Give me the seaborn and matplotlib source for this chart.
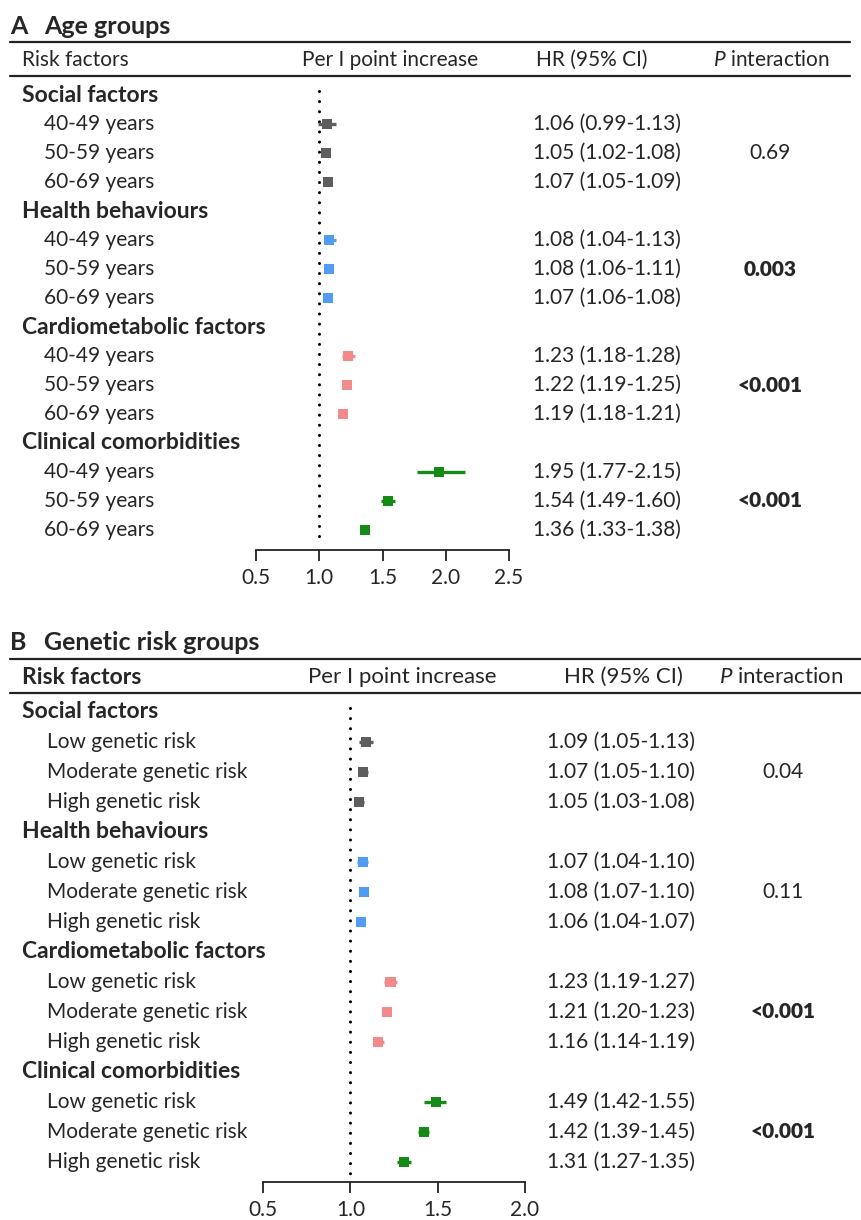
import pandas as pd
import matplotlib.pyplot as plt
import matplotlib.transforms as mtransforms
import seaborn as sns

sns.set_style('white')
plt.rcParams['font.family'] = ['Lato', 'DejaVu Sans']
plt.rcParams['mathtext.fontset'] = 'custom'
plt.rcParams['mathtext.rm'] = 'Lato'
plt.rcParams['mathtext.it'] = 'Lato:italic'

groups = ['Social factors', 'Health behaviours', 'Cardiometabolic factors', 'Clinical comorbidities']
colors = ['#5e5e5e', '#4f9cf2', '#f28a8c', '#168a16']

age_labels = ['40-49 years', '50-59 years', '60-69 years']
age_hr = [1.06, 1.05, 1.07, 1.08, 1.08, 1.07, 1.23, 1.22, 1.19, 1.95, 1.54, 1.36]
age_lo = [0.99, 1.02, 1.05, 1.04, 1.06, 1.06, 1.18, 1.19, 1.18, 1.77, 1.49, 1.33]
age_hi = [1.13, 1.08, 1.09, 1.13, 1.11, 1.08, 1.28, 1.25, 1.21, 2.15, 1.60, 1.38]
age_p = ['0.69', '0.003', '<0.001', '<0.001']
age_p_bold = [False, True, True, True]

gen_labels = ['Low genetic risk', 'Moderate genetic risk', 'High genetic risk']
gen_hr = [1.09, 1.07, 1.05, 1.07, 1.08, 1.06, 1.23, 1.21, 1.16, 1.49, 1.42, 1.31]
gen_lo = [1.05, 1.05, 1.03, 1.04, 1.07, 1.04, 1.19, 1.20, 1.14, 1.42, 1.39, 1.27]
gen_hi = [1.13, 1.10, 1.08, 1.10, 1.10, 1.07, 1.27, 1.23, 1.19, 1.55, 1.45, 1.35]
gen_p = ['0.04', '0.11', '<0.001', '<0.001']
gen_p_bold = [False, False, True, True]

W, H = 861, 1220
FS = 15      # regular text
FSB = 16.5   # bold group headings
FST = 18     # panel titles
fig = plt.figure(figsize=(W / 100, H / 100), dpi=100)


def fx(x):
    return x / W


def fy(y):
    return 1 - y / H


def build(labels, hr, lo, hi):
    rows = []
    k = 0
    for g in groups:
        rows.append({'group': g, 'label': g, 'head': True})
        for lab in labels:
            rows.append({'group': g, 'label': lab, 'head': False,
                         'hr': hr[k], 'lo': lo[k], 'hi': hi[k]})
            k += 1
    df = pd.DataFrame(rows)
    df['row'] = range(len(df))
    return df


def panel(df, letter, title, top, ax_left, ax_right, ax_bottom, xmax, ticks,
          line_right, cols, p_vals, p_bold, head_bold, head_fs, label_x, sub_x, hr_x, p_x, step):
    # title and header rules
    fig.text(fx(10), fy(top), letter, fontsize=FST, fontweight='bold', va='center')
    fig.text(fx(44), fy(top), title, fontsize=FST, fontweight='bold', va='center')
    fig.add_artist(plt.Line2D([fx(10), fx(line_right)], [fy(top + 16)] * 2, color='#222', lw=1.6))
    fig.add_artist(plt.Line2D([fx(10), fx(line_right)], [fy(top + 50)] * 2, color='#222', lw=1.6))
    hy = fy(top + 34)
    if head_bold:
        fig.text(fx(label_x), hy, 'Risk factors', fontsize=FSB, va='center', fontweight='bold')
    else:
        fig.text(fx(label_x), hy, 'Risk factors', fontsize=head_fs, va='center')
    fig.text(fx(cols[0]), hy, 'Per I point increase', fontsize=head_fs, va='center', ha='center')
    fig.text(fx(cols[1]), hy, 'HR (95% CI)', fontsize=head_fs, va='center', ha='center')
    fig.text(fx(cols[2]), hy, '$P$ interaction', fontsize=head_fs, va='center', ha='center')

    n = len(df)
    first_row_px = top + 69
    last_row_px = first_row_px + step * (n - 1)
    ax_top = first_row_px - 0.5 * step
    ax = fig.add_axes([fx(ax_left), fy(ax_bottom), fx(ax_right - ax_left), (ax_bottom - ax_top) / H])
    ax.set_ylim((n - 1) + (ax_bottom - last_row_px) / step, -0.5)
    ax.set_xlim(0.5, xmax)

    pts = df[~df['head']]
    ax.vlines(1.0, -0.15, n - 1 + 0.5, colors='black', lw=2.2, linestyles=(0, (0.01, 3.3)),
              capstyle='round')
    for g, c in zip(groups, colors):
        sub = pts[pts['group'] == g]
        ax.hlines(sub['row'], sub['lo'], sub['hi'], colors=c, lw=2.4)
    sns.scatterplot(data=pts, x='hr', y='row', hue='group', palette=colors, marker='s',
                    s=52, linewidth=0, legend=False, ax=ax, zorder=3)

    ax.set_xticks(ticks)
    ax.set_xticklabels([f'{t:.1f}' for t in ticks], fontsize=FS)
    ax.set_yticks([])
    ax.set_xlabel('')
    ax.set_ylabel('')
    for s in ['top', 'left', 'right']:
        ax.spines[s].set_visible(False)
    ax.spines['bottom'].set_color('#222')
    ax.spines['bottom'].set_linewidth(1.3)
    ax.tick_params(axis='x', direction='out', length=8, width=1.3, color='#222', pad=5, bottom=True)
    ax.set_facecolor('none')

    tr = mtransforms.blended_transform_factory(fig.transFigure, ax.transData)
    gi = 0
    for _, r in df.iterrows():
        if r['head']:
            fig.text(fx(label_x), r['row'], r['label'], transform=tr, fontsize=FSB,
                     fontweight='bold', va='center')
            fig.text(fx(p_x), r['row'] + 2, p_vals[gi], transform=tr, fontsize=FS,
                     fontweight='heavy' if p_bold[gi] else 'normal', va='center', ha='center')
            gi += 1
        else:
            fig.text(fx(sub_x), r['row'], r['label'], transform=tr, fontsize=FS, va='center')
            fig.text(fx(hr_x), r['row'], f"{r['hr']:.2f} ({r['lo']:.2f}-{r['hi']:.2f})",
                     transform=tr, fontsize=FS, va='center')
    return ax


dfa = build(age_labels, age_hr, age_lo, age_hi)
dfb = build(gen_labels, gen_hr, gen_lo, gen_hi)

panel(dfa, 'A', 'Age groups', 26, 256, 509, 550, 2.5, [0.5, 1.0, 1.5, 2.0, 2.5],
      850, [390, 592, 771], age_p, age_p_bold, False, 15, 22, 44, 533, 770, 29.0)
panel(dfb, 'B', 'Genetic risk groups', 643, 263, 525, 1182, 2.0, [0.5, 1.0, 1.5, 2.0],
      861, [402, 623, 781], gen_p, gen_p_bold, True, 16, 22, 47, 547, 783, 30.0)

fig.savefig('out.png', dpi=100, facecolor='white')
